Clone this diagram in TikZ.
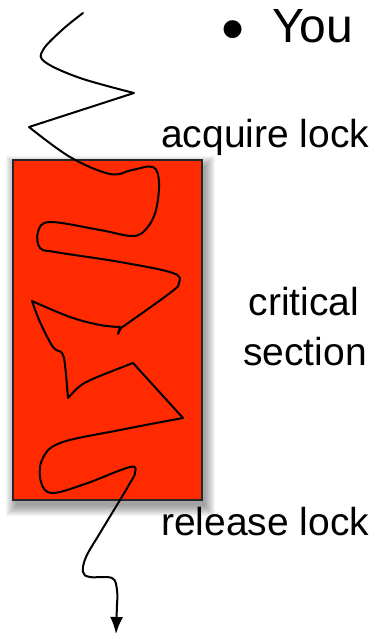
\documentclass[tikz,border=0pt]{standalone}
\usepackage{fontspec}
\setmainfont{Liberation Sans}
\usetikzlibrary{arrows.meta}
\definecolor{lockred}{RGB}{255,42,0}
\begin{document}
\begin{tikzpicture}[x=1pt,y=-1pt,
  txt/.style={font=\fontsize{39}{50}\selectfont, inner sep=0pt, text=black},
  thread/.style={line width=2pt, line cap=round, line join=round},
  csbox/.style={draw=black!85, fill=lockred, line width=1.5pt, minimum width=189pt, minimum height=340pt, inner sep=0pt, anchor=north west},
]
\useasboundingbox (0,0) rectangle (379,634);
% soft drop shadow
\foreach \i in {0,...,10} {
  \fill[black, opacity=0.04] (16-\i,166-\i) rectangle (205+\i,506+\i);
}
\node[csbox] (cs) at (12,159) {};
% thread of execution
\coordinate (start) at (83,13);
\coordinate (end) at (116,634);
\draw[thread]
  plot[smooth, tension=0.6] coordinates {(start) (62,30) (43,50) (45,62) (80,78) (134,93)}
  -- (29,127)
  -- plot[smooth, tension=0.6] coordinates {(29,127) (70,157) (110,174) (132,170) (153,167) (159,182) (156,210) (147,228) (133,236) (100,230) (50,222) (38,232) (40,248) (55,252) (120,262) (173,273) (179,283) (170,293) (121,328)}
  -- (118,334) -- (120,327)
  -- plot[smooth, tension=0.6] coordinates {(120,327) (100,325) (70,317) (32,301)}
  -- plot[smooth, tension=0.6] coordinates {(32,301) (40,322) (53,347) (62,353) (65,365) (68,398)}
  -- plot[smooth, tension=0.6] coordinates {(68,398) (80,386) (95,378) (133,363)}
  -- (183,418)
  -- plot[smooth, tension=0.6] coordinates {(183,418) (120,430) (60,443) (42,460) (41,482) (52,493) (85,484) (130,467) (135,473) (130,483) (120,500) (100,533) (86,557) (83,572) (90,577) (112,578) (117,590) (117,605)};
\draw[thread, -{Latex[length=17pt,width=13pt]}] (117,604) -- (end);
% labels
\node[txt, anchor=base west] (acq) at (161,147) {acquire lock};
\node[txt, anchor=base] (crit) at (304,315) {critical};
\node[txt, anchor=base] (sect) at (305,365) {section};
\node[txt, anchor=base west] (rel) at (161,535) {release lock};
\node[font=\fontsize{48}{58}\selectfont, inner sep=0pt, anchor=base west] (you) at (272,43) {You};
\node[font=\fontsize{66}{70}\selectfont, inner sep=0pt, anchor=base] (bul) at (233,52) {•};
\end{tikzpicture}
\end{document}
